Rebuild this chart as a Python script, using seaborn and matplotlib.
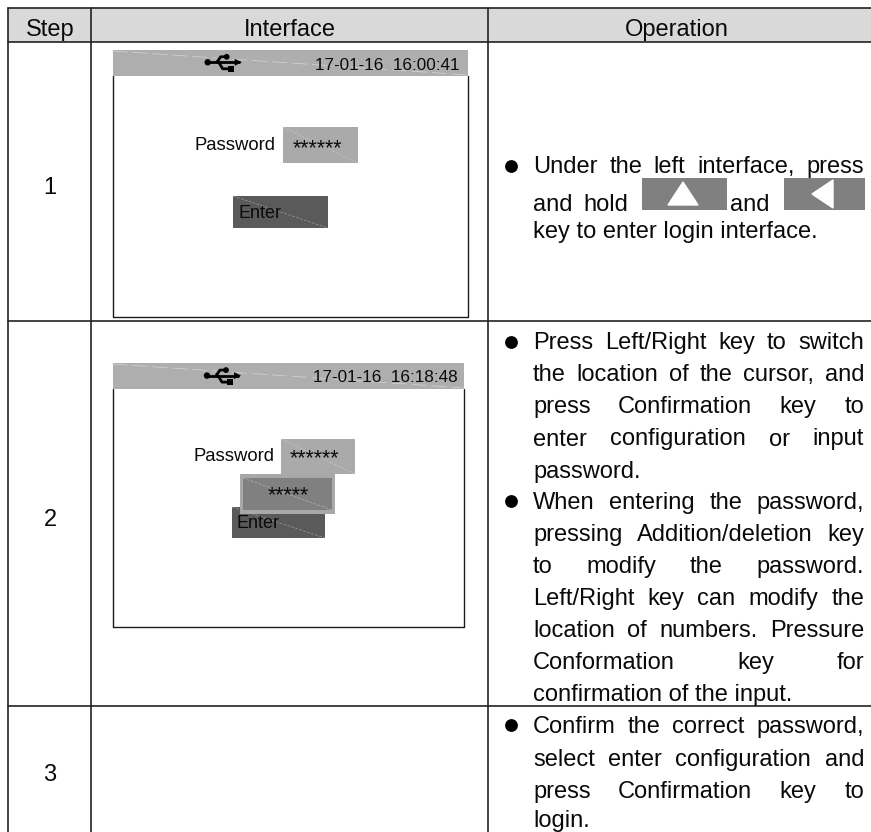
import matplotlib
matplotlib.use("Agg")
import matplotlib.pyplot as plt
from matplotlib.patches import Rectangle, Polygon, Circle
import pandas as pd
import seaborn as sns

# ---- content ----
headers = ["Step", "Interface", "Operation"]
steps = ["1", "2", "3"]
clock_1 = "17-01-16  16:00:41"
clock_2 = "17-01-16  16:18:48"
password_label = "Password"
enter_label = "Enter"
mask_long = "******"
mask_short = "*****"
row1_first = "Under the left interface, press"
row1_last = "key to enter login interface."
row2_lines = [
    "Press Left/Right key to switch",
    "the location of the cursor, and",
    "press Confirmation key to",
    "enter configuration or input",
    "password.",
    "When entering the password,",
    "pressing Addition/deletion key",
    "to modify the password.",
    "Left/Right key can modify the",
    "location of numbers. Pressure",
    "Conformation key for",
    "confirmation of the input.",
]
row2_left_aligned = ["password.", "confirmation of the input."]
row3_lines = [
    "Confirm the correct password,",
    "select enter configuration and",
    "press Confirmation key to",
    "login.",
]

# ---- layout (pixels) ----
W, H = 871, 832
col_x = [8, 91, 488, 871]
row_y = [7.5, 42, 321, 706, 832]
header_base = 36
step_base = [194, 526, 781]
row1_base = [173, 238]
row2_base = [349.3, 381.3, 413.3, 445.5, 477.7, 509.3, 541.3, 573, 605, 637, 669, 700.8]
row3_base = [733, 766, 798, 826.5]
bullet_x = [510.7, 510.7, 510.7, 510.7]
bullet_y = [166, 342, 501, 725]
text_l, text_r = 533, 864
BIG = 17
INK = "#0a0a0a"

sns.set_theme(style="white")
plt.rcParams["font.family"] = ["Liberation Sans", "DejaVu Sans"]

fig = plt.figure(figsize=(W / 100, H / 100), dpi=100, facecolor="white")
ax = fig.add_axes([0, 0, 1, 1])
ax.set_facecolor("white")

# header band
ax.add_patch(Rectangle((col_x[0], row_y[0]), col_x[3] - col_x[0], row_y[1] - row_y[0],
                       fc="#d9d9d9", ec="none", zorder=0))

# table rules through seaborn
seg = []
for i, y in enumerate(row_y[:4]):
    seg += [(f"h{i}", col_x[0], y), (f"h{i}", col_x[3], y)]
for i, x in enumerate(col_x[:3]):
    seg += [(f"v{i}", x, row_y[0]), (f"v{i}", x, row_y[4])]
rules = pd.DataFrame(seg, columns=["id", "x", "y"])
sns.lineplot(data=rules, x="x", y="y", units="id", estimator=None, sort=False,
             color="#222222", linewidth=1.2, ax=ax, legend=False, zorder=3)

# bullets through seaborn
bullets = pd.DataFrame({"x": bullet_x, "y": bullet_y})
sns.scatterplot(data=bullets, x="x", y="y", s=85, color="black", linewidth=0, ax=ax,
                legend=False, zorder=4)

ax.set_xlim(0, W)
ax.set_ylim(H, 0)
ax.axis("off")


def put(x, y, s, size=BIG, ha="left", color=INK):
    return ax.text(x, y, s, fontsize=size, ha=ha, va="baseline", color=color, zorder=6)


# headers and step numbers
for x, s in zip([50.5, 290, 677], headers):
    put(x, header_base, s, ha="center")
for y, s in zip(step_base, steps):
    put(50, y, s, ha="center")

renderer = fig.canvas.get_renderer()


def width(s, size=BIG):
    t = ax.text(0, 0, s, fontsize=size)
    w = t.get_window_extent(renderer).width
    t.remove()
    return w


def justified(line, y, x0=text_l, x1=text_r):
    words = line.split()
    ws = [width(w) for w in words]
    gap = (x1 - x0 - sum(ws)) / max(1, len(words) - 1)
    x = x0
    for w, wd in zip(words, ws):
        put(x, y, w)
        x += wd + gap


justified(row1_first, row1_base[0])
put(text_l, row1_base[1], row1_last)
for s, y in zip(row2_lines, row2_base):
    if s in row2_left_aligned:
        put(text_l, y, s)
    else:
        justified(s, y)
for s, y in zip(row3_lines, row3_base):
    if s == "login.":
        put(text_l, y, s)
    else:
        justified(s, y)

# the inline keys of row 1
put(text_l, 211, "and")
put(583, 211, "hold")
put(730, 211, "and")
ax.add_patch(Rectangle((642, 178), 85, 32, fc="#808080", ec="none", zorder=2))
ax.add_patch(Rectangle((784, 178), 81, 32, fc="#808080", ec="none", zorder=2))
ax.add_patch(Polygon([(683, 182), (668, 205), (698, 205)], fc="white", ec="white", lw=1, zorder=3))
ax.add_patch(Polygon([(812, 194), (833, 180), (833, 208)], fc="white", ec="white", lw=1, zorder=3))


def usb(cx, cy):
    k = dict(color="black", zorder=5, solid_capstyle="round")
    ax.plot([cx, cx + 31], [cy, cy], lw=2, **k)
    ax.add_patch(Polygon([(cx + 34, cy), (cx + 27, cy - 3.5), (cx + 27, cy + 3.5)], fc="black", ec="none", zorder=5))
    ax.add_patch(Circle((cx, cy), 3.2, fc="black", ec="none", zorder=5))
    ax.plot([cx + 9, cx + 13, cx + 19], [cy, cy - 5.5, cy - 5.5], lw=2, **k)
    ax.add_patch(Circle((cx + 19, cy - 5.5), 2.9, fc="black", ec="none", zorder=5))
    ax.plot([cx + 11, cx + 15, cx + 22], [cy, cy + 6.5, cy + 6.5], lw=2, **k)
    ax.add_patch(Rectangle((cx + 20, cy + 3.5), 6, 6, fc="black", ec="none", zorder=5))


def dashed_diag(x0, y0, x1, y1, color="#c6c6c6"):
    ax.plot([x0, x1], [y0, y1], color=color, lw=0.5, ls=(0, (4, 2)), zorder=4)


def screen(l, r, top, bar, bottom, clock, clock_x, clock_y, usb_xy,
           pw_x, pw_y, field, mask_x, mask_y, enter, enter_xy):
    ax.plot([l, l, r, r], [bar, bottom, bottom, bar], color="#1c1c1c", lw=1.0, zorder=3)
    ax.add_patch(Rectangle((l, top), r - l, bar - top, fc="#aeaeae", ec="none", zorder=3))
    ax.plot([l, r], [top + 1, bar - 1], color="#cfcfcf", lw=0.6, ls=(0, (18, 6)), zorder=4)
    usb(*usb_xy)
    put(clock_x, clock_y, clock, size=12.3)
    put(pw_x, pw_y, password_label, size=13.3)
    fx0, fy0, fx1, fy1 = field
    ax.add_patch(Rectangle((fx0, fy0), fx1 - fx0, fy1 - fy0, fc="#aaaaaa", ec="none", zorder=3))
    dashed_diag(fx0, fy0, fx1, fy1)
    put(mask_x, mask_y, mask_long, size=15.5)
    ex0, ey0, ex1, ey1 = enter
    ax.add_patch(Rectangle((ex0, ey0), ex1 - ex0, ey1 - ey0, fc="#5a5a5a", ec="none", zorder=3))
    dashed_diag(ex0, ey0, ex1, ey1, color="#9a9a9a")
    put(enter_xy[0], enter_xy[1], enter_label, size=13)


screen(112.5, 468, 50, 76, 317, clock_1, 315, 70, (207.7, 62.3),
       194, 150, (283, 127, 358, 163), 293, 154, (233, 196, 328, 228), (238, 218))
screen(112.5, 464, 363, 389, 627, clock_2, 313, 382, (207, 375.6),
       193, 461, (281, 439, 355, 474), 290, 464, (232, 507, 325, 538), (236, 528))

# popup over the second screen
ax.add_patch(Rectangle((240, 474), 95, 40, fc="#a8a8a8", ec="none", zorder=7))
ax.add_patch(Rectangle((243, 478), 89, 32, fc="#808080", ec="none", zorder=7))
ax.plot([243, 332], [478, 510], color="#b4b4b4", lw=0.5, ls=(0, (4, 2)), zorder=7)
t = put(268, 501, mask_short, size=15.5)
t.set_zorder(8)

fig.savefig("out.png", dpi=100, facecolor="white")
